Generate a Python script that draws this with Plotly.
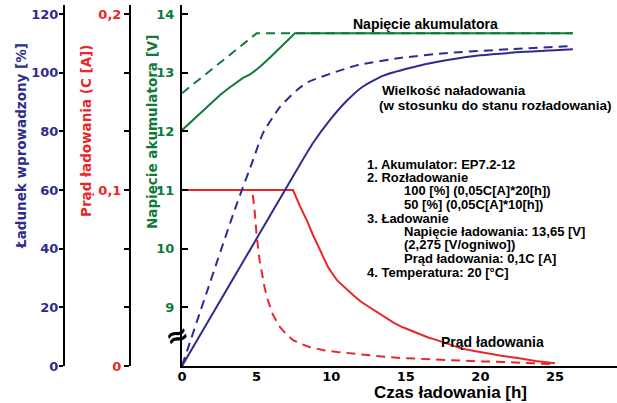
import plotly.graph_objects as go

# ---- data ----
t_v100 = [0, 0.6, 1.21, 1.9, 2.55, 3.1, 3.69, 4.09, 4.56, 4.9, 5.23, 5.9, 6.57, 7.1, 7.57, 26.2]
v100 = [12.02, 12.16, 12.31, 12.47, 12.62, 12.73, 12.84, 12.91, 12.97, 13.03, 13.10, 13.26, 13.42, 13.55, 13.67, 13.67]
t_v50 = [0, 5.0, 26.2]
v50 = [12.65, 13.67, 13.67]

t_chg100 = [0, 5.7, 6.77, 7.71, 8.78, 9.92, 11.06, 12.13, 13.5, 15.75, 17.8, 20.0, 23.0, 26.2]
chg100 = [0, 49.5, 58.8, 67.0, 76.0, 83.9, 90.5, 95.3, 99.0, 102.2, 104.3, 105.9, 107.1, 108.0]
t_chg50 = [0, 3.55, 4.76, 5.43, 6.57, 7.71, 8.45, 9.92, 11.8, 14.6, 17.8, 22.0, 26.2]
chg50 = [0, 53.5, 70.2, 79.4, 88.3, 94.1, 96.8, 99.6, 102.6, 105.0, 106.7, 108.0, 109.1]

t_cur100 = [0, 7.44, 7.9, 8.38, 8.8, 9.25, 9.8, 10.4, 11.0, 11.5, 12.0, 12.6, 13.2, 13.7, 14.2,
            14.8, 15.4, 16.0, 16.5, 17.1, 17.9, 18.7, 19.5, 20.4, 21.4, 22.5, 23.7, 25.0]
cur100 = [0.1, 0.1, 0.091, 0.0825, 0.074, 0.0655, 0.056, 0.0486, 0.0438, 0.040, 0.0365, 0.0333,
          0.030, 0.027, 0.0245, 0.022, 0.020, 0.018, 0.0162, 0.0147, 0.0122, 0.010, 0.0087,
          0.0073, 0.0058, 0.0045, 0.0028, 0.0015]
t_cur50 = [0, 4.7, 4.85, 5.0, 5.2, 5.36, 5.55, 5.76, 6.1, 6.57, 7.0, 7.44, 8.0, 8.58, 9.5, 10.4,
           11.5, 12.5, 13.6, 14.8, 16.4, 18.0, 19.7, 21.5, 23.2, 25.0]
cur50 = [0.1, 0.1, 0.09, 0.0745, 0.06, 0.0525, 0.044, 0.0373, 0.029, 0.022, 0.018, 0.0147, 0.0125,
         0.0107, 0.009, 0.008, 0.007, 0.006, 0.0052, 0.0045, 0.0038, 0.0032, 0.0027, 0.0023,
         0.0017, 0.001]

x_ticks = [0, 5, 10, 15, 20, 25]
v_ticks = [9, 10, 11, 12, 13, 14]
pct_ticks = [0, 20, 40, 60, 80, 100, 120]
cur_ticks = [0, 0.2 / 6, 0.4 / 6, 0.1, 0.8 / 6, 1.0 / 6, 0.2]
cur_ticktext = ["0", "", "", "0,1", "", "", "0,2"]

notes = [
    ("1. Akumulator: EP7.2-12", 0),
    ("2. Rozładowanie", 0),
    ("100 [%] (0,05C[A]*20[h])", 1),
    ("50 [%] (0,05C[A]*10[h])", 1),
    ("3. Ładowanie", 0),
    ("Napięcie ładowania: 13,65 [V]", 1),
    ("(2,275 [V/ogniwo])", 1),
    ("Prąd ładowania: 0,1C [A]", 1),
    ("4. Temperatura: 20 [°C]", 0),
]

BLUE = "#2f2b8d"
RED = "#e8262b"
GREEN = "#107a38"
W, H = 617, 403

def px(x):
    return x / W

def py(y):
    return 1 - y / H

fig = go.Figure()
fig.add_trace(go.Scatter(x=t_v50, y=v50, mode="lines", line=dict(color=GREEN, width=2, dash="9px,6px"), yaxis="y"))
fig.add_trace(go.Scatter(x=t_v100, y=v100, mode="lines", line=dict(color=GREEN, width=2), yaxis="y"))
fig.add_trace(go.Scatter(x=t_chg50, y=chg50, mode="lines", line=dict(color=BLUE, width=2, dash="9px,6px", shape="spline", smoothing=0.6), yaxis="y3"))
fig.add_trace(go.Scatter(x=t_chg100, y=chg100, mode="lines", line=dict(color=BLUE, width=2, shape="spline", smoothing=0.6), yaxis="y3"))
fig.add_trace(go.Scatter(x=t_cur50, y=cur50, mode="lines", line=dict(color=RED, width=2, dash="9px,6px"), yaxis="y2"))
fig.add_trace(go.Scatter(x=t_cur100, y=cur100, mode="lines", line=dict(color=RED, width=2), yaxis="y2"))

ydom = [py(366), py(5)]
vtop = 14 + 9 / 58.67
frac = (vtop - 8) / 6

tick_font = lambda c: dict(family="DejaVu Sans", size=13, color=c, weight="bold")

fig.update_layout(
    width=W, height=H,
    margin=dict(l=0, r=0, t=0, b=0),
    plot_bgcolor="white", paper_bgcolor="white",
    showlegend=False,
    xaxis=dict(domain=[px(182), 1], range=[0, (W - 182) / 14.92], tickvals=x_ticks,
               showgrid=False, zeroline=False, showline=True, linecolor="black", linewidth=2,
               ticks="", tickfont=tick_font("black"), anchor="y", automargin=False,
               ticklabelstandoff=-3),
    yaxis=dict(domain=ydom, range=[8, vtop], tickvals=v_ticks, showgrid=False, zeroline=False,
               showline=True, linecolor="black", linewidth=2, ticks="inside", ticklen=6,
               tickwidth=2, tickcolor="black", tickfont=tick_font(GREEN), anchor="x",
               automargin=False, ticklabelstandoff=3),
    yaxis2=dict(domain=ydom, range=[0, 0.2 * frac], tickvals=cur_ticks, ticktext=cur_ticktext,
                overlaying="y", anchor="free", position=px(130), side="left",
                showgrid=False, zeroline=False, showline=True, linecolor="black", linewidth=2,
                ticks="outside", ticklen=5, tickwidth=2, tickcolor="black",
                tickfont=tick_font(RED), automargin=False),
    yaxis3=dict(domain=ydom, range=[0, 120 * frac], tickvals=pct_ticks,
                overlaying="y", anchor="free", position=px(64), side="left",
                showgrid=False, zeroline=False, showline=True, linecolor="black", linewidth=2,
                ticks="outside", ticklen=4, tickwidth=2, tickcolor="black",
                tickfont=tick_font(BLUE), automargin=False, ticklabelstandoff=-2),
)

ann = []
def add(text, x, y, size=13, color="black", xanchor="center", family="Liberation Sans",
        angle=0, yanchor="middle"):
    ann.append(dict(text=text, x=px(x), y=py(y), xref="paper", yref="paper", showarrow=False,
                    xanchor=xanchor, yanchor=yanchor, textangle=angle,
                    font=dict(family=family, size=size, color=color, weight="bold")))

# axis titles
add("Ładunek wprowadzony [%]", 21, 146, 13.5, BLUE, family="DejaVu Sans", angle=-90)
add("Prąd ładowania (C [A])", 86, 131, 13.5, RED, family="DejaVu Sans", angle=-90)
add("Napięcie akumulatora [V]", 152, 132, 13.5, GREEN, family="DejaVu Sans", angle=-90)
add("Czas ładowania [h]", 451, 392, 17)

# chart labels
add("Napięcie akumulatora", 425, 24, 14)
add("Wielkość naładowania", 380, 90, 13.5, xanchor="left")
add("(w stosunku do stanu rozładowania)", 377, 105, 13.5, xanchor="left")
add("Prąd ładowania", 493, 342, 14)

for i, (txt, ind) in enumerate(notes):
    add(txt, 365 if ind == 0 else 402, 164 + i * 13.5, 13, xanchor="left")

# axis break mark
add("≈", 177, 335, 28, "black", family="DejaVu Sans", angle=-20)

fig.update_layout(annotations=ann)
fig.write_html("out.html", config={"displayModeBar": False},
               post_script="document.body.style.margin='0';")
